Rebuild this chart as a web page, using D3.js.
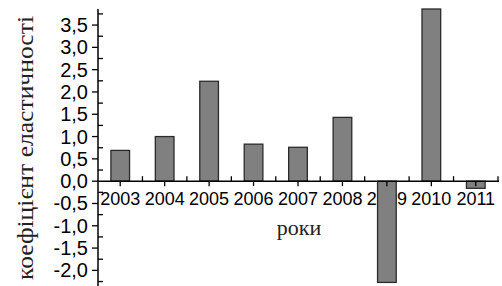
<!DOCTYPE html>
<html>
<head>
<meta charset="utf-8">
<script src="https://d3js.org/d3.v7.min.js"></script>
<style>
  body { margin: 0; background: #fff; }
  svg { display: block; }
</style>
</head>
<body>
<svg width="502" height="286"></svg>
<script>
const years = ["2003", "2004", "2005", "2006", "2007", "2008", "2009", "2010", "2011"];
const values = [0.69, 1.0, 2.24, 0.83, 0.76, 1.43, -2.27, 3.86, -0.16];
const yTicks = [-2.0, -1.5, -1.0, -0.5, 0.0, 0.5, 1.0, 1.5, 2.0, 2.5, 3.0, 3.5];
const yMinor = [-2.25, -1.75, -1.25, -0.75, -0.25, 0.25, 0.75, 1.25, 1.75, 2.25, 2.75, 3.25, 3.75];
const yTitle = "коефіцієнт еластичності";
const xTitle = "роки";

const svg = d3.select("svg");
const x = d3.scaleBand().domain(years).range([98, 498]);
const y = d3.scaleLinear().domain([-2.35, 3.86]).range([286, 9]);
const fmt = d => d.toFixed(1).replace(".", ",");
const barW = x.bandwidth() * 0.42;

// x labels (drawn under the bars)
svg.append("g").selectAll("text").data(years).enter().append("text")
  .attr("x", d => x(d) + x.bandwidth() / 2)
  .attr("y", 205)
  .attr("text-anchor", "middle")
  .style("font-family", "Liberation Sans, Arial, sans-serif")
  .style("font-size", "18px")
  .text(d => d);

// bars
svg.append("g").selectAll("rect").data(values).enter().append("rect")
  .attr("x", (d, i) => x(years[i]) + (x.bandwidth() - barW) / 2)
  .attr("width", barW)
  .attr("y", d => y(Math.max(0, d)))
  .attr("height", d => Math.abs(y(d) - y(0)))
  .attr("fill", "#808080")
  .attr("stroke", "#2a2a2a")
  .attr("stroke-width", 1.3);

// x axis: major ticks down at centres, minor up at boundaries
const gx = svg.append("g");
gx.append("line").attr("x1", 98).attr("x2", 499).attr("y1", y(0)).attr("y2", y(0))
  .attr("stroke", "#000").attr("stroke-width", 1.5);
gx.selectAll(".maj").data(years).enter().append("line")
  .attr("x1", d => x(d) + x.bandwidth() / 2).attr("x2", d => x(d) + x.bandwidth() / 2)
  .attr("y1", y(0)).attr("y2", y(0) + 5)
  .attr("stroke", "#000").attr("stroke-width", 1.3);
gx.selectAll(".min").data(years.slice(1).concat(["end"])).enter().append("line")
  .attr("x1", d => d === "end" ? 498 : x(d)).attr("x2", d => d === "end" ? 498 : x(d))
  .attr("y1", y(0)).attr("y2", y(0) - 5)
  .attr("stroke", "#000").attr("stroke-width", 1.3);

// y axis
const gy = svg.append("g");
gy.append("line").attr("x1", 98).attr("x2", 98).attr("y1", 9).attr("y2", 286)
  .attr("stroke", "#000").attr("stroke-width", 1.5);
gy.selectAll(".maj").data(yTicks).enter().append("line")
  .attr("x1", 92).attr("x2", 98).attr("y1", d => y(d)).attr("y2", d => y(d))
  .attr("stroke", "#000").attr("stroke-width", 1.3);
gy.selectAll(".min").data(yMinor).enter().append("line")
  .attr("x1", 98).attr("x2", 103).attr("y1", d => y(d)).attr("y2", d => y(d))
  .attr("stroke", "#000").attr("stroke-width", 1.3);
gy.selectAll("text").data(yTicks).enter().append("text")
  .attr("x", 88)
  .attr("y", d => y(d) + 7)
  .attr("text-anchor", "end")
  .style("font-family", "Liberation Sans, Arial, sans-serif")
  .style("font-size", "20px")
  .text(fmt);

// titles
svg.append("text")
  .attr("transform", "translate(33,148) rotate(-90)")
  .attr("text-anchor", "middle")
  .attr("textLength", 264)
  .attr("lengthAdjust", "spacingAndGlyphs")
  .style("font-family", "Liberation Serif, Times New Roman, serif")
  .style("font-size", "24px")
  .attr("fill", "#222")
  .text(yTitle);

svg.append("text")
  .attr("x", 299)
  .attr("y", 235)
  .attr("text-anchor", "middle")
  .style("font-family", "Liberation Serif, Times New Roman, serif")
  .style("font-size", "22px")
  .attr("fill", "#222")
  .text(xTitle);
</script>
</body>
</html>
